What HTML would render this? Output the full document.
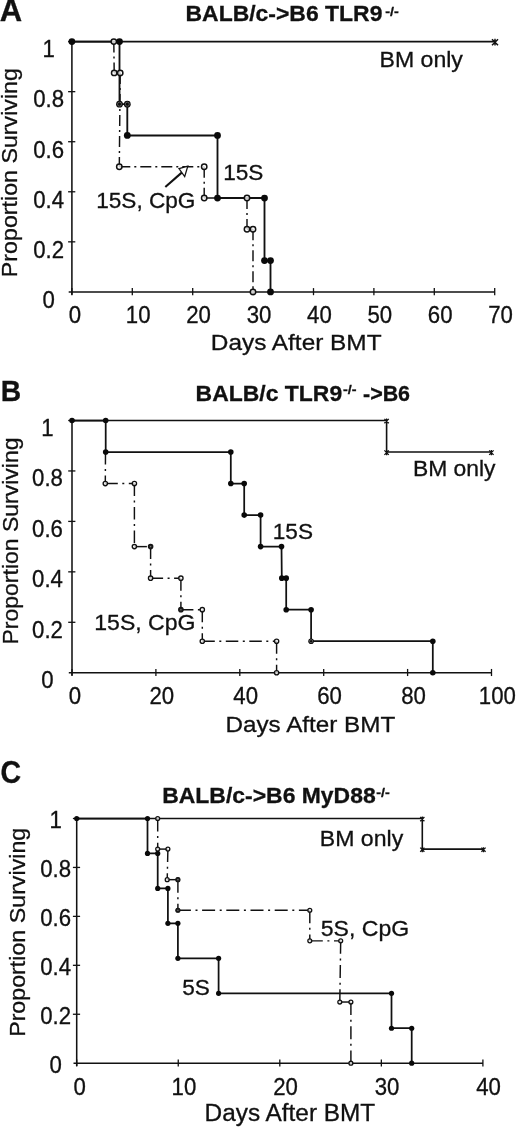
<!DOCTYPE html>
<html lang="en"><head><meta charset="utf-8"><title>Survival after BMT</title>
<style>
html,body{margin:0;padding:0;background:#fff;}
body{width:520px;height:1128px;overflow:hidden;}
svg{display:block;filter:blur(0.5px);}
svg text{font-family:"Liberation Sans", Arial, Helvetica, sans-serif;fill:#111;stroke:#111;stroke-width:0.3px;}
</style></head><body>
<svg width="520" height="1128" viewBox="0 0 520 1128">
<rect width="520" height="1128" fill="#fff"/>
<line x1="71.9" y1="41.6" x2="71.9" y2="294.7" stroke="#111" stroke-width="1.55"/>
<line x1="68.7" y1="291.9" x2="494.7" y2="291.9" stroke="#111" stroke-width="1.55"/>
<text transform="translate(48.6,307.7) scale(0.95,1)" font-size="23.4" text-anchor="middle">0</text>
<line x1="68.1" y1="241.84" x2="75.3" y2="241.84" stroke="#111" stroke-width="1.3"/>
<text transform="translate(48.6,257.64) scale(0.95,1)" font-size="23.4" text-anchor="middle">0.2</text>
<line x1="68.1" y1="191.78" x2="75.3" y2="191.78" stroke="#111" stroke-width="1.3"/>
<text transform="translate(48.6,207.58) scale(0.95,1)" font-size="23.4" text-anchor="middle">0.4</text>
<line x1="68.1" y1="141.72" x2="75.3" y2="141.72" stroke="#111" stroke-width="1.3"/>
<text transform="translate(48.6,157.52) scale(0.95,1)" font-size="23.4" text-anchor="middle">0.6</text>
<line x1="68.1" y1="91.66" x2="75.3" y2="91.66" stroke="#111" stroke-width="1.3"/>
<text transform="translate(48.6,107.46) scale(0.95,1)" font-size="23.4" text-anchor="middle">0.8</text>
<line x1="68.1" y1="41.6" x2="75.3" y2="41.6" stroke="#111" stroke-width="1.3"/>
<text transform="translate(48.6,57.4) scale(0.95,1)" font-size="23.4" text-anchor="middle">1</text>
<line x1="71.9" y1="288.1" x2="71.9" y2="295.2" stroke="#111" stroke-width="1.3"/>
<text transform="translate(74.9,322.7) scale(0.95,1)" font-size="23.4" text-anchor="middle">0</text>
<line x1="132.3" y1="288.1" x2="132.3" y2="295.2" stroke="#111" stroke-width="1.3"/>
<text transform="translate(138.2,322.7) scale(0.95,1)" font-size="23.4" text-anchor="middle">10</text>
<line x1="192.7" y1="288.1" x2="192.7" y2="295.2" stroke="#111" stroke-width="1.3"/>
<text transform="translate(198.6,322.7) scale(0.95,1)" font-size="23.4" text-anchor="middle">20</text>
<line x1="253.1" y1="288.1" x2="253.1" y2="295.2" stroke="#111" stroke-width="1.3"/>
<text transform="translate(259.0,322.7) scale(0.95,1)" font-size="23.4" text-anchor="middle">30</text>
<line x1="313.5" y1="288.1" x2="313.5" y2="295.2" stroke="#111" stroke-width="1.3"/>
<text transform="translate(319.4,322.7) scale(0.95,1)" font-size="23.4" text-anchor="middle">40</text>
<line x1="373.9" y1="288.1" x2="373.9" y2="295.2" stroke="#111" stroke-width="1.3"/>
<text transform="translate(379.8,322.7) scale(0.95,1)" font-size="23.4" text-anchor="middle">50</text>
<line x1="434.3" y1="288.1" x2="434.3" y2="295.2" stroke="#111" stroke-width="1.3"/>
<text transform="translate(440.2,322.7) scale(0.95,1)" font-size="23.4" text-anchor="middle">60</text>
<line x1="494.7" y1="288.1" x2="494.7" y2="295.2" stroke="#111" stroke-width="1.3"/>
<text transform="translate(500.6,322.7) scale(0.95,1)" font-size="23.4" text-anchor="middle">70</text>
<path d="M71.9 41.6 L495 41.6" fill="none" stroke="#111" stroke-width="1.6" stroke-linejoin="miter"/>
<path d="M492.0 39.2L498.0 45.2M492.0 45.2L498.0 39.2M495 38.8L495 45.6" stroke="#111" stroke-width="1.45" fill="none"/>
<line x1="113.8" y1="41.6" x2="114.2" y2="72.89" stroke="#111" stroke-width="1.45" stroke-dasharray="11 4 2 4"/>
<line x1="114.2" y1="72.89" x2="120.2" y2="72.89" stroke="#111" stroke-width="1.45" stroke-dasharray="11 4 2 4"/>
<line x1="120.2" y1="72.89" x2="119.3" y2="166.75" stroke="#111" stroke-width="1.45" stroke-dasharray="11 4 2 4"/>
<line x1="119.3" y1="166.75" x2="204.2" y2="166.75" stroke="#111" stroke-width="1.45" stroke-dasharray="11 4 2 4"/>
<line x1="204.2" y1="166.75" x2="204.2" y2="198.04" stroke="#111" stroke-width="1.45" stroke-dasharray="11 4 2 4"/>
<line x1="204.2" y1="198.04" x2="247" y2="198.04" stroke="#111" stroke-width="1.45" stroke-dasharray="11 4 2 4"/>
<line x1="247" y1="198.04" x2="247" y2="229.32" stroke="#111" stroke-width="1.45" stroke-dasharray="11 4 2 4"/>
<line x1="247" y1="229.32" x2="253" y2="229.32" stroke="#111" stroke-width="1.45" stroke-dasharray="11 4 2 4"/>
<line x1="253" y1="229.32" x2="253" y2="291.9" stroke="#111" stroke-width="1.45" stroke-dasharray="11 4 2 4"/>
<path d="M71.9 41.6 L119.5 41.6 L119.5 104.17 L127.3 104.17 L127.3 135.46 L217.5 135.46 L217.5 198.04 L264.5 198.04 L264.5 260.61 L270.5 260.61 L270.5 291.9" fill="none" stroke="#111" stroke-width="1.85" stroke-linejoin="miter"/>
<circle cx="113.8" cy="41.6" r="2.7" fill="#fff" fill-opacity="0.78" stroke="#111" stroke-width="1.5"/>
<circle cx="114.2" cy="72.89" r="2.7" fill="#fff" fill-opacity="0.78" stroke="#111" stroke-width="1.5"/>
<circle cx="120.2" cy="72.89" r="2.7" fill="#fff" fill-opacity="0.78" stroke="#111" stroke-width="1.5"/>
<circle cx="119.3" cy="166.75" r="2.7" fill="#fff" fill-opacity="0.78" stroke="#111" stroke-width="1.5"/>
<circle cx="204.2" cy="166.75" r="2.7" fill="#fff" fill-opacity="0.78" stroke="#111" stroke-width="1.5"/>
<circle cx="204.2" cy="198.04" r="2.7" fill="#fff" fill-opacity="0.78" stroke="#111" stroke-width="1.5"/>
<circle cx="247" cy="198.04" r="2.7" fill="#fff" fill-opacity="0.78" stroke="#111" stroke-width="1.5"/>
<circle cx="247" cy="229.32" r="2.7" fill="#fff" fill-opacity="0.78" stroke="#111" stroke-width="1.5"/>
<circle cx="253" cy="229.32" r="2.7" fill="#fff" fill-opacity="0.78" stroke="#111" stroke-width="1.5"/>
<circle cx="253" cy="291.9" r="2.7" fill="#fff" fill-opacity="0.78" stroke="#111" stroke-width="1.5"/>
<circle cx="71.9" cy="41.6" r="3.4" fill="#0a0a0a"/>
<circle cx="119.5" cy="41.6" r="3.4" fill="#0a0a0a"/>
<circle cx="119.5" cy="104.17" r="3.4" fill="#0a0a0a"/>
<circle cx="127.3" cy="104.17" r="3.4" fill="#0a0a0a"/>
<circle cx="127.3" cy="135.46" r="3.4" fill="#0a0a0a"/>
<circle cx="217.5" cy="135.46" r="3.4" fill="#0a0a0a"/>
<circle cx="217.5" cy="198.04" r="3.4" fill="#0a0a0a"/>
<circle cx="264.5" cy="198.04" r="3.4" fill="#0a0a0a"/>
<circle cx="264.5" cy="260.61" r="3.4" fill="#0a0a0a"/>
<circle cx="270.5" cy="260.61" r="3.4" fill="#0a0a0a"/>
<circle cx="270.5" cy="291.9" r="3.4" fill="#0a0a0a"/>
<circle cx="119.5" cy="104.17" r="2.0" fill="none" stroke="#777" stroke-width="0.7"/>
<circle cx="127.3" cy="104.17" r="2.0" fill="none" stroke="#777" stroke-width="0.7"/>
<line x1="165.3" y1="187" x2="182" y2="172.4" stroke="#111" stroke-width="2.1"/>
<path d="M187.8 166.1 L179 168.7 L184.7 176.5 Z" fill="#fff" stroke="#111" stroke-width="1.25" stroke-linejoin="miter"/>
<text transform="translate(223.2,180.1) scale(1,1)" font-size="22.6" text-anchor="start">15S</text>
<text transform="translate(96.2,207.9) scale(1.0,1)" font-size="22.6" text-anchor="start">15S, CpG</text>
<text transform="translate(379.5,66.5) scale(1.05,1)" font-size="22.0" text-anchor="start">BM only</text>
<text transform="translate(296.2,350.0) scale(1.07,1)" font-size="22.8" text-anchor="middle">Days After BMT</text>
<text transform="translate(17.2,172.6) rotate(-90) scale(1.01,0.97)" font-size="23" text-anchor="middle">Proportion Surviving</text>
<text transform="translate(185.5,20.8) scale(1.06,1)" font-size="21.65" text-anchor="start" font-weight="700">BALB/c-&gt;B6 TLR9<tspan font-size="13.5" dy="-5.0" dx="2.6">-/-</tspan></text>
<text transform="translate(-0.3,21.3) scale(1.0,1)" font-size="31" text-anchor="start" font-weight="700">A</text>
<line x1="72.0" y1="420.5" x2="72.0" y2="675.55" stroke="#111" stroke-width="1.55"/>
<line x1="68.8" y1="672.75" x2="491.5" y2="672.75" stroke="#111" stroke-width="1.55"/>
<text transform="translate(47.5,688.15) scale(0.95,1)" font-size="23.4" text-anchor="middle">0</text>
<line x1="68.2" y1="622.3" x2="75.4" y2="622.3" stroke="#111" stroke-width="1.3"/>
<text transform="translate(47.5,637.7) scale(0.95,1)" font-size="23.4" text-anchor="middle">0.2</text>
<line x1="68.2" y1="571.85" x2="75.4" y2="571.85" stroke="#111" stroke-width="1.3"/>
<text transform="translate(47.5,587.25) scale(0.95,1)" font-size="23.4" text-anchor="middle">0.4</text>
<line x1="68.2" y1="521.4" x2="75.4" y2="521.4" stroke="#111" stroke-width="1.3"/>
<text transform="translate(47.5,536.8) scale(0.95,1)" font-size="23.4" text-anchor="middle">0.6</text>
<line x1="68.2" y1="470.95" x2="75.4" y2="470.95" stroke="#111" stroke-width="1.3"/>
<text transform="translate(47.5,486.35) scale(0.95,1)" font-size="23.4" text-anchor="middle">0.8</text>
<line x1="68.2" y1="420.5" x2="75.4" y2="420.5" stroke="#111" stroke-width="1.3"/>
<text transform="translate(47.5,435.9) scale(0.95,1)" font-size="23.4" text-anchor="middle">1</text>
<line x1="72.0" y1="668.95" x2="72.0" y2="676.05" stroke="#111" stroke-width="1.3"/>
<text transform="translate(75.0,703.55) scale(0.95,1)" font-size="23.4" text-anchor="middle">0</text>
<line x1="155.9" y1="668.95" x2="155.9" y2="676.05" stroke="#111" stroke-width="1.3"/>
<text transform="translate(161.8,703.55) scale(0.95,1)" font-size="23.4" text-anchor="middle">20</text>
<line x1="239.8" y1="668.95" x2="239.8" y2="676.05" stroke="#111" stroke-width="1.3"/>
<text transform="translate(245.7,703.55) scale(0.95,1)" font-size="23.4" text-anchor="middle">40</text>
<line x1="323.7" y1="668.95" x2="323.7" y2="676.05" stroke="#111" stroke-width="1.3"/>
<text transform="translate(329.6,703.55) scale(0.95,1)" font-size="23.4" text-anchor="middle">60</text>
<line x1="407.6" y1="668.95" x2="407.6" y2="676.05" stroke="#111" stroke-width="1.3"/>
<text transform="translate(413.5,703.55) scale(0.95,1)" font-size="23.4" text-anchor="middle">80</text>
<line x1="491.5" y1="668.95" x2="491.5" y2="676.05" stroke="#111" stroke-width="1.3"/>
<text transform="translate(497.4,703.55) scale(0.95,1)" font-size="23.4" text-anchor="middle">100</text>
<path d="M72.0 420.5 L386.6 420.5 L386.6 452.03 L491.4 452.03" fill="none" stroke="#111" stroke-width="1.6" stroke-linejoin="miter"/>
<path d="M384.4 418.9L388.8 423.3M384.4 423.3L388.8 418.9M386.6 418.5L386.6 423.7" stroke="#111" stroke-width="1.25" fill="none"/>
<path d="M384.4 450.43L388.8 454.83M384.4 454.83L388.8 450.43M386.6 450.03L386.6 455.23" stroke="#111" stroke-width="1.25" fill="none"/>
<path d="M489.2 450.43L493.6 454.83M489.2 454.83L493.6 450.43M491.4 450.03L491.4 455.23" stroke="#111" stroke-width="1.25" fill="none"/>
<line x1="105.5" y1="452.03" x2="105.3" y2="483.56" stroke="#111" stroke-width="1.45" stroke-dasharray="12.5 4.5 2 4.5"/>
<line x1="105.3" y1="483.56" x2="134.4" y2="483.56" stroke="#111" stroke-width="1.45" stroke-dasharray="12.5 4.5 2 4.5"/>
<line x1="134.4" y1="483.56" x2="134.4" y2="546.62" stroke="#111" stroke-width="1.45" stroke-dasharray="12.5 4.5 2 4.5"/>
<line x1="134.4" y1="546.62" x2="150.6" y2="546.62" stroke="#111" stroke-width="1.45" stroke-dasharray="12.5 4.5 2 4.5"/>
<line x1="150.6" y1="546.62" x2="150.6" y2="578.16" stroke="#111" stroke-width="1.45" stroke-dasharray="12.5 4.5 2 4.5"/>
<line x1="150.6" y1="578.16" x2="180.9" y2="578.16" stroke="#111" stroke-width="1.45" stroke-dasharray="12.5 4.5 2 4.5"/>
<line x1="180.9" y1="578.16" x2="180.9" y2="609.69" stroke="#111" stroke-width="1.45" stroke-dasharray="12.5 4.5 2 4.5"/>
<line x1="180.9" y1="609.69" x2="202.3" y2="609.69" stroke="#111" stroke-width="1.45" stroke-dasharray="12.5 4.5 2 4.5"/>
<line x1="202.3" y1="609.69" x2="202.3" y2="641.22" stroke="#111" stroke-width="1.45" stroke-dasharray="12.5 4.5 2 4.5"/>
<line x1="202.3" y1="641.22" x2="276.6" y2="641.22" stroke="#111" stroke-width="1.45" stroke-dasharray="12.5 4.5 2 4.5"/>
<line x1="276.6" y1="641.22" x2="276.6" y2="672.75" stroke="#111" stroke-width="1.45" stroke-dasharray="12.5 4.5 2 4.5"/>
<path d="M72.0 420.5 L105.7 420.5 L105.7 452.03 L230.8 452.03 L230.8 483.56 L244.2 483.56 L244.2 515.09 L260.6 515.09 L260.6 546.62 L281.5 546.62 L281.8 578.16 L286.2 578.16 L286.2 609.69 L311.1 609.69 L311.1 641.22 L432.8 641.22 L432.8 672.75" fill="none" stroke="#111" stroke-width="1.75" stroke-linejoin="miter"/>
<circle cx="105.3" cy="483.56" r="2.15" fill="#fff" fill-opacity="0.78" stroke="#111" stroke-width="1.35"/>
<circle cx="134.4" cy="483.56" r="2.15" fill="#fff" fill-opacity="0.78" stroke="#111" stroke-width="1.35"/>
<circle cx="134.4" cy="546.62" r="2.15" fill="#fff" fill-opacity="0.78" stroke="#111" stroke-width="1.35"/>
<circle cx="150.6" cy="546.62" r="2.15" fill="#fff" fill-opacity="0.78" stroke="#111" stroke-width="1.35"/>
<circle cx="150.6" cy="578.16" r="2.15" fill="#fff" fill-opacity="0.78" stroke="#111" stroke-width="1.35"/>
<circle cx="180.9" cy="578.16" r="2.15" fill="#fff" fill-opacity="0.78" stroke="#111" stroke-width="1.35"/>
<circle cx="180.9" cy="609.69" r="2.15" fill="#fff" fill-opacity="0.78" stroke="#111" stroke-width="1.35"/>
<circle cx="202.3" cy="609.69" r="2.15" fill="#fff" fill-opacity="0.78" stroke="#111" stroke-width="1.35"/>
<circle cx="202.3" cy="641.22" r="2.15" fill="#fff" fill-opacity="0.78" stroke="#111" stroke-width="1.35"/>
<circle cx="276.6" cy="641.22" r="2.15" fill="#fff" fill-opacity="0.78" stroke="#111" stroke-width="1.35"/>
<circle cx="276.6" cy="672.75" r="2.15" fill="#fff" fill-opacity="0.78" stroke="#111" stroke-width="1.35"/>
<circle cx="72.0" cy="420.5" r="2.8" fill="#0a0a0a"/>
<circle cx="105.7" cy="420.5" r="2.8" fill="#0a0a0a"/>
<circle cx="105.7" cy="452.03" r="2.8" fill="#0a0a0a"/>
<circle cx="230.8" cy="452.03" r="2.8" fill="#0a0a0a"/>
<circle cx="230.8" cy="483.56" r="2.8" fill="#0a0a0a"/>
<circle cx="244.2" cy="483.56" r="2.8" fill="#0a0a0a"/>
<circle cx="244.2" cy="515.09" r="2.8" fill="#0a0a0a"/>
<circle cx="260.6" cy="515.09" r="2.8" fill="#0a0a0a"/>
<circle cx="260.6" cy="546.62" r="2.8" fill="#0a0a0a"/>
<circle cx="281.5" cy="546.62" r="2.8" fill="#0a0a0a"/>
<circle cx="281.8" cy="578.16" r="2.8" fill="#0a0a0a"/>
<circle cx="286.2" cy="578.16" r="2.8" fill="#0a0a0a"/>
<circle cx="286.2" cy="609.69" r="2.8" fill="#0a0a0a"/>
<circle cx="311.1" cy="609.69" r="2.8" fill="#0a0a0a"/>
<circle cx="311.1" cy="641.22" r="2.8" fill="#0a0a0a"/>
<circle cx="432.8" cy="641.22" r="2.8" fill="#0a0a0a"/>
<circle cx="432.8" cy="672.75" r="2.8" fill="#0a0a0a"/>
<circle cx="311.1" cy="641.22" r="1.6" fill="none" stroke="#777" stroke-width="0.7"/>
<circle cx="150.6" cy="546.62" r="2.3" fill="#1a1a1a"/>
<circle cx="150.6" cy="546.62" r="0.8" fill="#777"/>
<circle cx="180.9" cy="609.69" r="2.3" fill="#1a1a1a"/>
<circle cx="180.9" cy="609.69" r="0.8" fill="#777"/>
<text transform="translate(272.8,538.8) scale(1,1)" font-size="22.6" text-anchor="start">15S</text>
<text transform="translate(94.3,630.4) scale(1.02,1)" font-size="22.6" text-anchor="start">15S, CpG</text>
<text transform="translate(412.9,476.2) scale(1.04,1)" font-size="22.0" text-anchor="start">BM only</text>
<text transform="translate(310.4,731.6) scale(1.06,1)" font-size="22.9" text-anchor="middle">Days After BMT</text>
<text transform="translate(18.3,541) rotate(-90) scale(1.0,0.97)" font-size="23" text-anchor="middle">Proportion Surviving</text>
<text transform="translate(195.6,400.6) scale(1.06,1)" font-size="21.65" text-anchor="start" font-weight="700">BALB/c TLR9<tspan font-size="13.5" dy="-6.2" dx="0.8">-/-</tspan></text>
<text transform="translate(363,400.6) scale(0.99,1)" font-size="21.65" text-anchor="start" font-weight="700">-&gt;B6</text>
<text transform="translate(0.75,401.1) scale(0.93,1)" font-size="30.4" text-anchor="start" font-weight="700">B</text>
<line x1="76.7" y1="818.5" x2="76.7" y2="1066.0" stroke="#111" stroke-width="1.55"/>
<line x1="73.5" y1="1063.2" x2="482.9" y2="1063.2" stroke="#111" stroke-width="1.55"/>
<text transform="translate(55.6,1073.0) scale(0.95,1)" font-size="23.4" text-anchor="middle">0</text>
<line x1="72.9" y1="1014.26" x2="80.1" y2="1014.26" stroke="#111" stroke-width="1.3"/>
<text transform="translate(55.6,1024.06) scale(0.95,1)" font-size="23.4" text-anchor="middle">0.2</text>
<line x1="72.9" y1="965.32" x2="80.1" y2="965.32" stroke="#111" stroke-width="1.3"/>
<text transform="translate(55.6,975.12) scale(0.95,1)" font-size="23.4" text-anchor="middle">0.4</text>
<line x1="72.9" y1="916.38" x2="80.1" y2="916.38" stroke="#111" stroke-width="1.3"/>
<text transform="translate(55.6,926.18) scale(0.95,1)" font-size="23.4" text-anchor="middle">0.6</text>
<line x1="72.9" y1="867.44" x2="80.1" y2="867.44" stroke="#111" stroke-width="1.3"/>
<text transform="translate(55.6,877.24) scale(0.95,1)" font-size="23.4" text-anchor="middle">0.8</text>
<line x1="72.9" y1="818.5" x2="80.1" y2="818.5" stroke="#111" stroke-width="1.3"/>
<text transform="translate(55.6,828.3) scale(0.95,1)" font-size="23.4" text-anchor="middle">1</text>
<line x1="76.7" y1="1059.4" x2="76.7" y2="1066.5" stroke="#111" stroke-width="1.3"/>
<text transform="translate(79.7,1094.6) scale(0.95,1)" font-size="23.4" text-anchor="middle">0</text>
<line x1="178.25" y1="1059.4" x2="178.25" y2="1066.5" stroke="#111" stroke-width="1.3"/>
<text transform="translate(183.95,1094.6) scale(0.95,1)" font-size="23.4" text-anchor="middle">10</text>
<line x1="279.8" y1="1059.4" x2="279.8" y2="1066.5" stroke="#111" stroke-width="1.3"/>
<text transform="translate(285.5,1094.6) scale(0.95,1)" font-size="23.4" text-anchor="middle">20</text>
<line x1="381.35" y1="1059.4" x2="381.35" y2="1066.5" stroke="#111" stroke-width="1.3"/>
<text transform="translate(387.05,1094.6) scale(0.95,1)" font-size="23.4" text-anchor="middle">30</text>
<line x1="482.9" y1="1059.4" x2="482.9" y2="1066.5" stroke="#111" stroke-width="1.3"/>
<text transform="translate(488.6,1094.6) scale(0.95,1)" font-size="23.4" text-anchor="middle">40</text>
<path d="M76.7 818.5 L422.3 818.5 L422.3 849.09 L483.5 849.09" fill="none" stroke="#111" stroke-width="1.6" stroke-linejoin="miter"/>
<path d="M420.2 817.0L424.4 821.2M420.2 821.2L424.4 817.0M422.3 816.6L422.3 821.6" stroke="#111" stroke-width="1.25" fill="none"/>
<path d="M420.2 847.59L424.4 851.79M420.2 851.79L424.4 847.59M422.3 847.19L422.3 852.19" stroke="#111" stroke-width="1.25" fill="none"/>
<path d="M481.4 847.59L485.6 851.79M481.4 851.79L485.6 847.59M483.5 847.19L483.5 852.19" stroke="#111" stroke-width="1.25" fill="none"/>
<line x1="157.7" y1="818.5" x2="157.7" y2="849.09" stroke="#111" stroke-width="1.45" stroke-dasharray="13 4.6 2 4.6"/>
<line x1="157.7" y1="849.09" x2="167.9" y2="849.09" stroke="#111" stroke-width="1.45" stroke-dasharray="13 4.6 2 4.6"/>
<line x1="167.9" y1="849.09" x2="167.2" y2="879.67" stroke="#111" stroke-width="1.45" stroke-dasharray="13 4.6 2 4.6"/>
<line x1="167.2" y1="879.67" x2="177.9" y2="879.67" stroke="#111" stroke-width="1.45" stroke-dasharray="13 4.6 2 4.6"/>
<line x1="177.9" y1="879.67" x2="177.9" y2="910.26" stroke="#111" stroke-width="1.45" stroke-dasharray="13 4.6 2 4.6"/>
<line x1="177.9" y1="910.26" x2="309.8" y2="910.26" stroke="#111" stroke-width="1.45" stroke-dasharray="13 4.6 2 4.6"/>
<line x1="309.8" y1="910.26" x2="309.8" y2="940.85" stroke="#111" stroke-width="1.45" stroke-dasharray="13 4.6 2 4.6"/>
<line x1="309.8" y1="940.85" x2="340.7" y2="940.85" stroke="#111" stroke-width="1.45" stroke-dasharray="13 4.6 2 4.6"/>
<line x1="340.7" y1="940.85" x2="339.8" y2="1002.03" stroke="#111" stroke-width="1.45" stroke-dasharray="13 4.6 2 4.6"/>
<line x1="339.8" y1="1002.03" x2="350.9" y2="1002.03" stroke="#111" stroke-width="1.45" stroke-dasharray="13 4.6 2 4.6"/>
<line x1="350.9" y1="1002.03" x2="350.9" y2="1063.2" stroke="#111" stroke-width="1.45" stroke-dasharray="13 4.6 2 4.6"/>
<path d="M76.7 818.5 L147.5 818.5 L147.5 853.46 L157.7 853.46 L157.7 888.41 L167.9 888.41 L167.9 923.37 L177.9 923.37 L177.9 958.33 L218.6 958.33 L218.6 993.29 L391.5 993.29 L391.5 1028.24 L411.7 1028.24 L411.7 1063.2" fill="none" stroke="#111" stroke-width="1.75" stroke-linejoin="miter"/>
<circle cx="157.7" cy="818.5" r="1.95" fill="#fff" fill-opacity="0.78" stroke="#111" stroke-width="1.3"/>
<circle cx="157.7" cy="849.09" r="1.95" fill="#fff" fill-opacity="0.78" stroke="#111" stroke-width="1.3"/>
<circle cx="167.9" cy="849.09" r="1.95" fill="#fff" fill-opacity="0.78" stroke="#111" stroke-width="1.3"/>
<circle cx="167.2" cy="879.67" r="1.95" fill="#fff" fill-opacity="0.78" stroke="#111" stroke-width="1.3"/>
<circle cx="177.9" cy="879.67" r="1.95" fill="#fff" fill-opacity="0.78" stroke="#111" stroke-width="1.3"/>
<circle cx="177.9" cy="910.26" r="1.95" fill="#fff" fill-opacity="0.78" stroke="#111" stroke-width="1.3"/>
<circle cx="309.8" cy="910.26" r="1.95" fill="#fff" fill-opacity="0.78" stroke="#111" stroke-width="1.3"/>
<circle cx="309.8" cy="940.85" r="1.95" fill="#fff" fill-opacity="0.78" stroke="#111" stroke-width="1.3"/>
<circle cx="340.7" cy="940.85" r="1.95" fill="#fff" fill-opacity="0.78" stroke="#111" stroke-width="1.3"/>
<circle cx="339.8" cy="1002.03" r="1.95" fill="#fff" fill-opacity="0.78" stroke="#111" stroke-width="1.3"/>
<circle cx="350.9" cy="1002.03" r="1.95" fill="#fff" fill-opacity="0.78" stroke="#111" stroke-width="1.3"/>
<circle cx="350.9" cy="1063.2" r="1.95" fill="#fff" fill-opacity="0.78" stroke="#111" stroke-width="1.3"/>
<circle cx="177.9" cy="879.67" r="2.3" fill="#1a1a1a"/>
<circle cx="177.9" cy="879.67" r="0.8" fill="#777"/>
<circle cx="177.9" cy="910.26" r="2.3" fill="#1a1a1a"/>
<circle cx="177.9" cy="910.26" r="0.8" fill="#777"/>
<circle cx="76.7" cy="818.5" r="2.6" fill="#0a0a0a"/>
<circle cx="147.5" cy="818.5" r="2.6" fill="#0a0a0a"/>
<circle cx="147.5" cy="853.46" r="2.6" fill="#0a0a0a"/>
<circle cx="157.7" cy="853.46" r="2.6" fill="#0a0a0a"/>
<circle cx="157.7" cy="888.41" r="2.6" fill="#0a0a0a"/>
<circle cx="167.9" cy="888.41" r="2.6" fill="#0a0a0a"/>
<circle cx="167.9" cy="923.37" r="2.6" fill="#0a0a0a"/>
<circle cx="177.9" cy="923.37" r="2.6" fill="#0a0a0a"/>
<circle cx="177.9" cy="958.33" r="2.6" fill="#0a0a0a"/>
<circle cx="218.6" cy="958.33" r="2.6" fill="#0a0a0a"/>
<circle cx="218.6" cy="993.29" r="2.6" fill="#0a0a0a"/>
<circle cx="391.5" cy="993.29" r="2.6" fill="#0a0a0a"/>
<circle cx="391.5" cy="1028.24" r="2.6" fill="#0a0a0a"/>
<circle cx="411.7" cy="1028.24" r="2.6" fill="#0a0a0a"/>
<circle cx="411.7" cy="1063.2" r="2.6" fill="#0a0a0a"/>
<text transform="translate(182.2,995) scale(1,1)" font-size="22.6" text-anchor="start">5S</text>
<text transform="translate(320.8,935.6) scale(1.02,1)" font-size="22.6" text-anchor="start">5S, CpG</text>
<text transform="translate(319.8,845.6) scale(1.05,1)" font-size="22.0" text-anchor="start">BM only</text>
<text transform="translate(289.9,1121.2) scale(1.06,1)" font-size="23" text-anchor="middle">Days After BMT</text>
<text transform="translate(24.8,932.3) rotate(-90) scale(1.01,0.97)" font-size="23" text-anchor="middle">Proportion Surviving</text>
<text transform="translate(162.2,802.6) scale(1.06,1)" font-size="21.65" text-anchor="start" font-weight="700">BALB/c-&gt;B6 MyD88<tspan font-size="13.5" dy="-5.3" dx="0.5">-/-</tspan></text>
<text transform="translate(0.5,783) scale(0.92,1)" font-size="31" text-anchor="start" font-weight="700">C</text>
</svg>
</body></html>
